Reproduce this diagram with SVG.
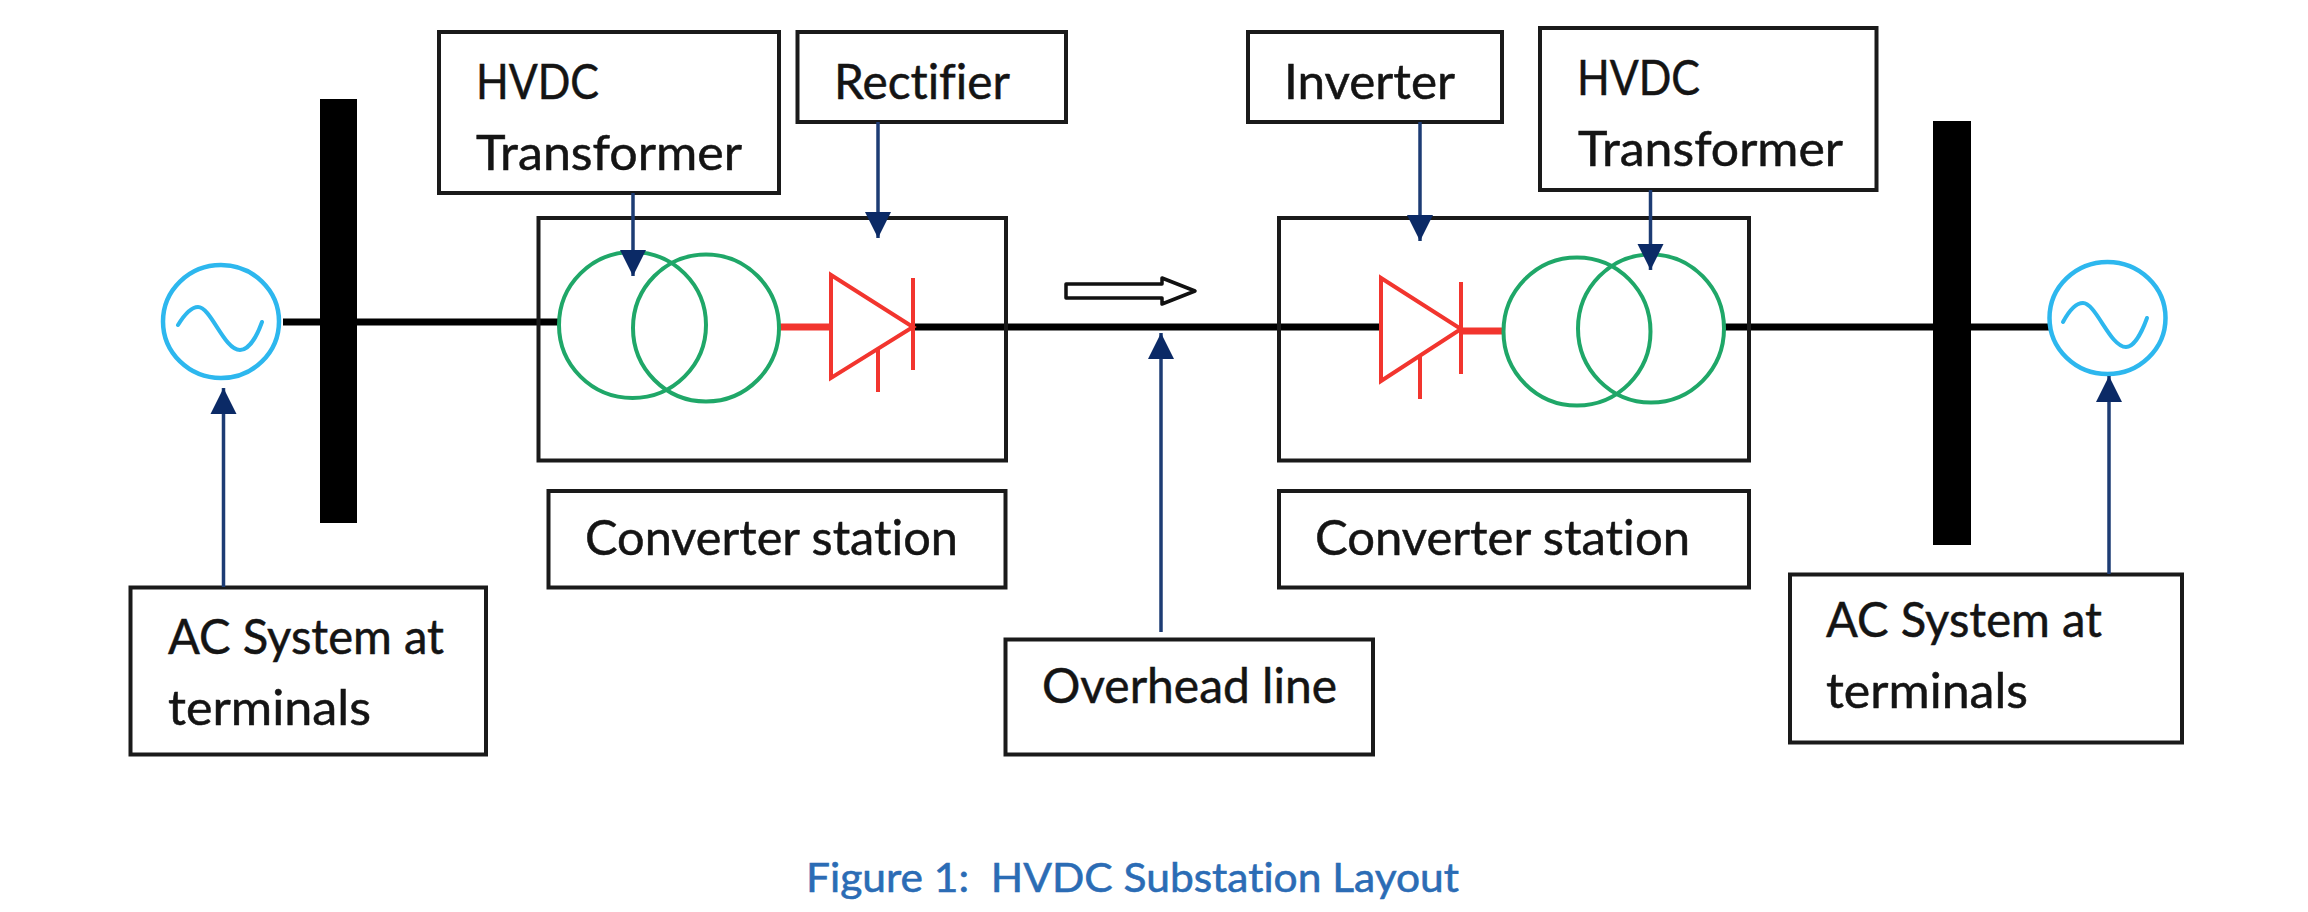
<svg xmlns="http://www.w3.org/2000/svg" width="2308" height="912" viewBox="0 0 2308 912">
  <style>
    .box { fill: #fff; stroke: #1a1a1a; stroke-width: 4; }
    .station { fill: none; stroke: #1a1a1a; stroke-width: 4; }
    .label { font-family: Lato, "Open Sans", sans-serif; font-size: 48px; fill: #141414; stroke: #141414; stroke-width: 0.5; font-variant-ligatures: none; }
    .caption { font-family: Lato, "Open Sans", sans-serif; font-size: 41px; fill: #2b6cb5; stroke: #2b6cb5; stroke-width: 0.6; white-space: pre; font-variant-ligatures: none; }
    .bus { fill: #000; }
    .wire { fill: none; stroke: #000; stroke-width: 7; }
    .gen { fill: #fff; stroke: #2db7ee; stroke-width: 4.5; }
    .sine { fill: none; stroke: #2db7ee; stroke-width: 4; stroke-linecap: round; }
    .coil { fill: none; stroke: #1fa768; stroke-width: 4; }
    .diode { fill: none; stroke: #f2352e; stroke-width: 4; }
    .stub { fill: none; stroke: #f2352e; stroke-width: 7; }
    .pointer { fill: none; stroke: #1d3c74; stroke-width: 3.5; marker-end: url(#head); }
  </style>
  <defs>
    <marker id="head" markerUnits="userSpaceOnUse" markerWidth="28" markerHeight="28" refX="26" refY="14" orient="auto">
      <path d="M0 1 L26 14 L0 27 Z" fill="#0b2a66"/>
    </marker>
  </defs>
  <rect width="2308" height="912" fill="#fff"/>

  <g id="wires">
    <path class="wire" d="M283 322H559"/>
    <path class="wire" d="M913 327H1381"/>
    <path class="wire" d="M1724 327H2049"/>
    <path class="stub" d="M780 327H831"/>
    <path class="stub" d="M1462 331H1503"/>
  </g>

  <g id="station-left"><rect class="station" x="538.5" y="218" width="467.5" height="242.5"/></g>
  <g id="station-right"><rect class="station" x="1279" y="218" width="470" height="242.5"/></g>

  <g id="bus-left"><rect class="bus" x="320" y="99" width="37" height="424"/></g>
  <g id="bus-right"><rect class="bus" x="1933" y="121" width="38" height="424"/></g>

  <g id="generator-left">
    <ellipse class="gen" cx="221" cy="321.5" rx="58" ry="56.5"/>
    <path class="sine" d="M178 325C186 312 192 307 198 307C211 307 224 350 240 350C249 350 257 336 262 322"/>
  </g>
  <g id="generator-right">
    <ellipse class="gen" cx="2107.5" cy="318" rx="58" ry="56"/>
    <path class="sine" d="M2063 322C2070 309 2077 303 2083 303C2096 303 2110 347 2126 347C2134 347 2142 332 2147 318"/>
  </g>

  <g id="transformer-left">
    <ellipse class="coil" cx="632.5" cy="325" rx="73.5" ry="73"/>
    <ellipse class="coil" cx="706" cy="328" rx="73" ry="73.5"/>
  </g>
  <g id="transformer-right">
    <ellipse class="coil" cx="1577" cy="331.5" rx="73.5" ry="74"/>
    <ellipse class="coil" cx="1651" cy="328.5" rx="73" ry="74"/>
  </g>

  <g id="diode-left">
    <path class="diode" d="M831 275L913 327L831 378Z"/>
    <path class="diode" d="M913 278V370M878 349V392"/>
  </g>
  <g id="diode-right">
    <path class="diode" d="M1381 278L1461 329L1381 381Z"/>
    <path class="diode" d="M1461 282V374M1420 355V399"/>
  </g>

  <g id="flow-direction">
    <path d="M1066 284H1162V278L1195 291L1162 304V298H1066Z" fill="#fff" stroke="#111" stroke-width="3.5" stroke-linejoin="round"/>
  </g>

  <g id="label-transformer-left">
    <rect class="box" x="439" y="32" width="340" height="161"/>
    <text class="label" x="476" y="99" textLength="123" lengthAdjust="spacingAndGlyphs">HVDC</text>
    <text class="label" x="476" y="170" textLength="266" lengthAdjust="spacingAndGlyphs">Transformer</text>
  </g>
  <g id="label-rectifier">
    <rect class="box" x="797.5" y="32" width="268.5" height="90"/>
    <text class="label" x="834" y="99" textLength="176" lengthAdjust="spacingAndGlyphs">Rectifier</text>
  </g>
  <g id="label-inverter">
    <rect class="box" x="1248" y="32" width="254" height="90"/>
    <text class="label" x="1284" y="99" textLength="171" lengthAdjust="spacingAndGlyphs">Inverter</text>
  </g>
  <g id="label-transformer-right">
    <rect class="box" x="1540" y="28" width="336.5" height="162"/>
    <text class="label" x="1577" y="95" textLength="123" lengthAdjust="spacingAndGlyphs">HVDC</text>
    <text class="label" x="1578" y="166" textLength="265" lengthAdjust="spacingAndGlyphs">Transformer</text>
  </g>
  <g id="label-station-left">
    <rect class="box" x="548.5" y="491" width="457" height="96.5"/>
    <text class="label" x="585" y="555" textLength="373" lengthAdjust="spacingAndGlyphs">Converter station</text>
  </g>
  <g id="label-station-right">
    <rect class="box" x="1279" y="491" width="470" height="96.5"/>
    <text class="label" x="1315" y="555" textLength="375" lengthAdjust="spacingAndGlyphs">Converter station</text>
  </g>
  <g id="label-ac-left">
    <rect class="box" x="130.5" y="587.5" width="355.5" height="167"/>
    <text class="label" x="168" y="654" textLength="276" lengthAdjust="spacingAndGlyphs">AC System at</text>
    <text class="label" x="168" y="725" textLength="203" lengthAdjust="spacingAndGlyphs">terminals</text>
  </g>
  <g id="label-ac-right">
    <rect class="box" x="1790" y="574.5" width="392" height="168"/>
    <text class="label" x="1826" y="637" textLength="276" lengthAdjust="spacingAndGlyphs">AC System at</text>
    <text class="label" x="1826" y="708" textLength="202" lengthAdjust="spacingAndGlyphs">terminals</text>
  </g>
  <g id="label-overhead">
    <rect class="box" x="1005.5" y="639.5" width="367.5" height="115"/>
    <text class="label" x="1042" y="703" textLength="295" lengthAdjust="spacingAndGlyphs">Overhead line</text>
  </g>

  <g id="connectors">
    <line class="pointer" x1="633" y1="193" x2="633" y2="276"/>
    <line class="pointer" x1="878" y1="122" x2="878" y2="238"/>
    <line class="pointer" x1="1420" y1="122" x2="1420" y2="241"/>
    <line class="pointer" x1="1650.5" y1="190" x2="1650.5" y2="270"/>
    <line class="pointer" x1="223.5" y1="587" x2="223.5" y2="388"/>
    <line class="pointer" x1="1161" y1="632" x2="1161" y2="333"/>
    <line class="pointer" x1="2109" y1="574" x2="2109" y2="376"/>
  </g>

  <g id="caption">
    <text class="caption" x="806" y="892" textLength="653" lengthAdjust="spacingAndGlyphs">Figure 1:  HVDC Substation Layout</text>
  </g>
</svg>
